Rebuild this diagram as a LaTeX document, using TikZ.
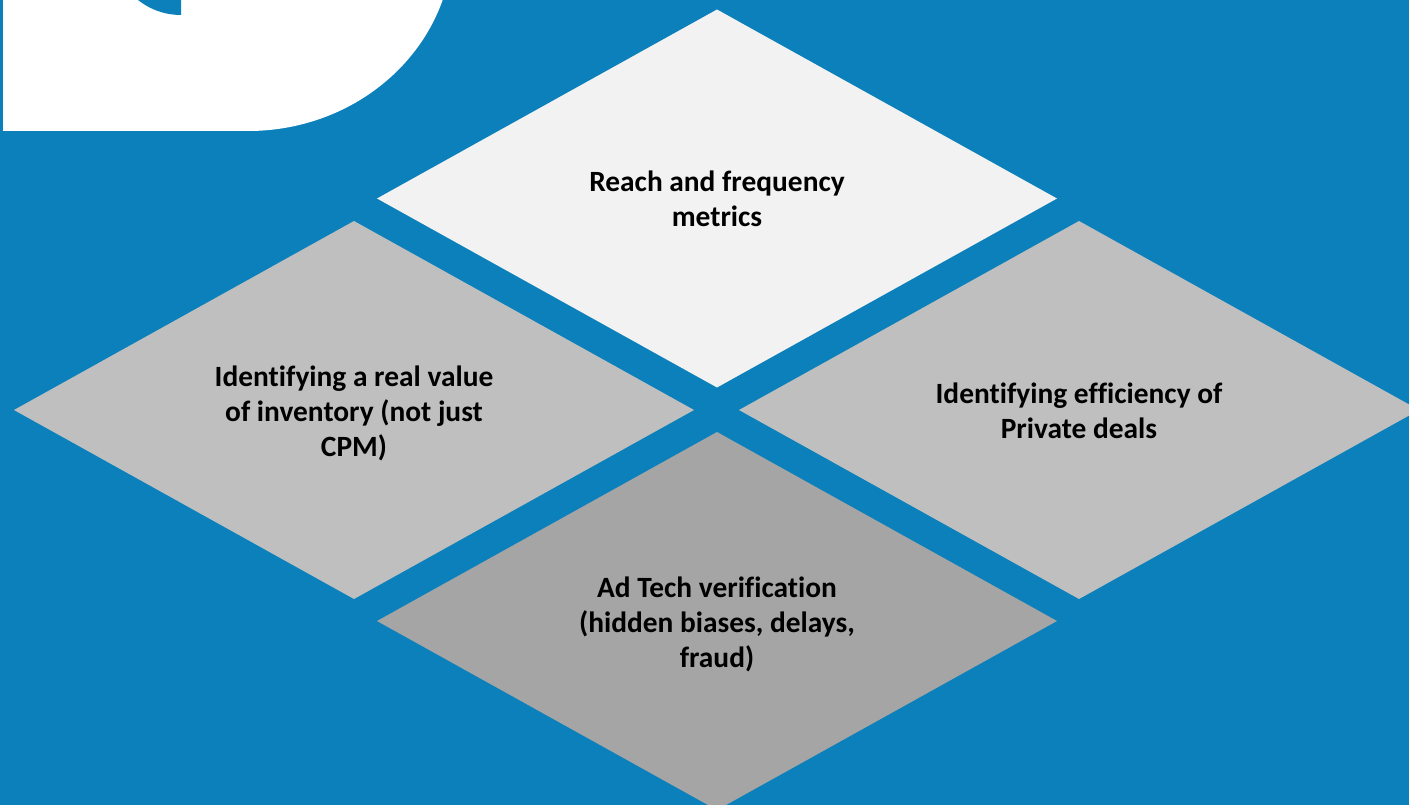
\documentclass[tikz,border=0pt]{standalone}
\usepackage{fontspec}
\setmainfont{Carlito}[Ligatures=NoCommon]
\usepackage{tikz}
\usetikzlibrary{shapes.geometric}
\definecolor{backblue}{HTML}{0C80BA}
\definecolor{lightgrey}{HTML}{F2F2F2}
\definecolor{midgrey}{HTML}{BFBFBF}
\definecolor{darkgrey}{HTML}{A5A5A5}
\tikzset{
    %Define style for diamonds
    tile/.style={
           diamond,
           aspect=1.8,
           inner sep=0pt,
           outer sep=0pt,
           minimum width=680pt,
           minimum height=378pt,
           font=\fontsize{29.4}{35.2}\selectfont\bfseries,
           align=center,
           text=black,
           },
    toptile/.style={tile, fill=lightgrey},
    sidetile/.style={tile, fill=midgrey},
    bottomtile/.style={tile, fill=darkgrey},
}
\begin{document}
\begin{tikzpicture}[x=1pt,y=-1pt]
\useasboundingbox (0,0) rectangle (1409,805);
\clip (0,0) rectangle (1409,805);
\fill[backblue] (0,0) rectangle (1409,805);
% corner shape
\fill[white] (3,-2) -- (3,131) -- (248,131) arc[start angle=90,end angle=0,x radius=205,y radius=191] -- cycle;
\fill[backblue] (181,-54) -- (181,15) arc[start angle=90,end angle=180,x radius=69,y radius=69] -- cycle;
% tiles
\node[toptile](Reach) at (717,198.5){Reach and frequency\\metrics};
\node[sidetile](Inventory) at (354,410){\rule{0pt}{27pt}Identifying a real value\\of inventory (not just\\CPM)};
\node[sidetile](Private) at (1079,410){\rule{0pt}{23pt}Identifying efficiency of\\Private deals};
\node[bottomtile](Verification) at (717,621){\rule{0pt}{27pt}Ad Tech verification\\(hidden biases, delays,\\fraud)};
\end{tikzpicture}
\end{document}
